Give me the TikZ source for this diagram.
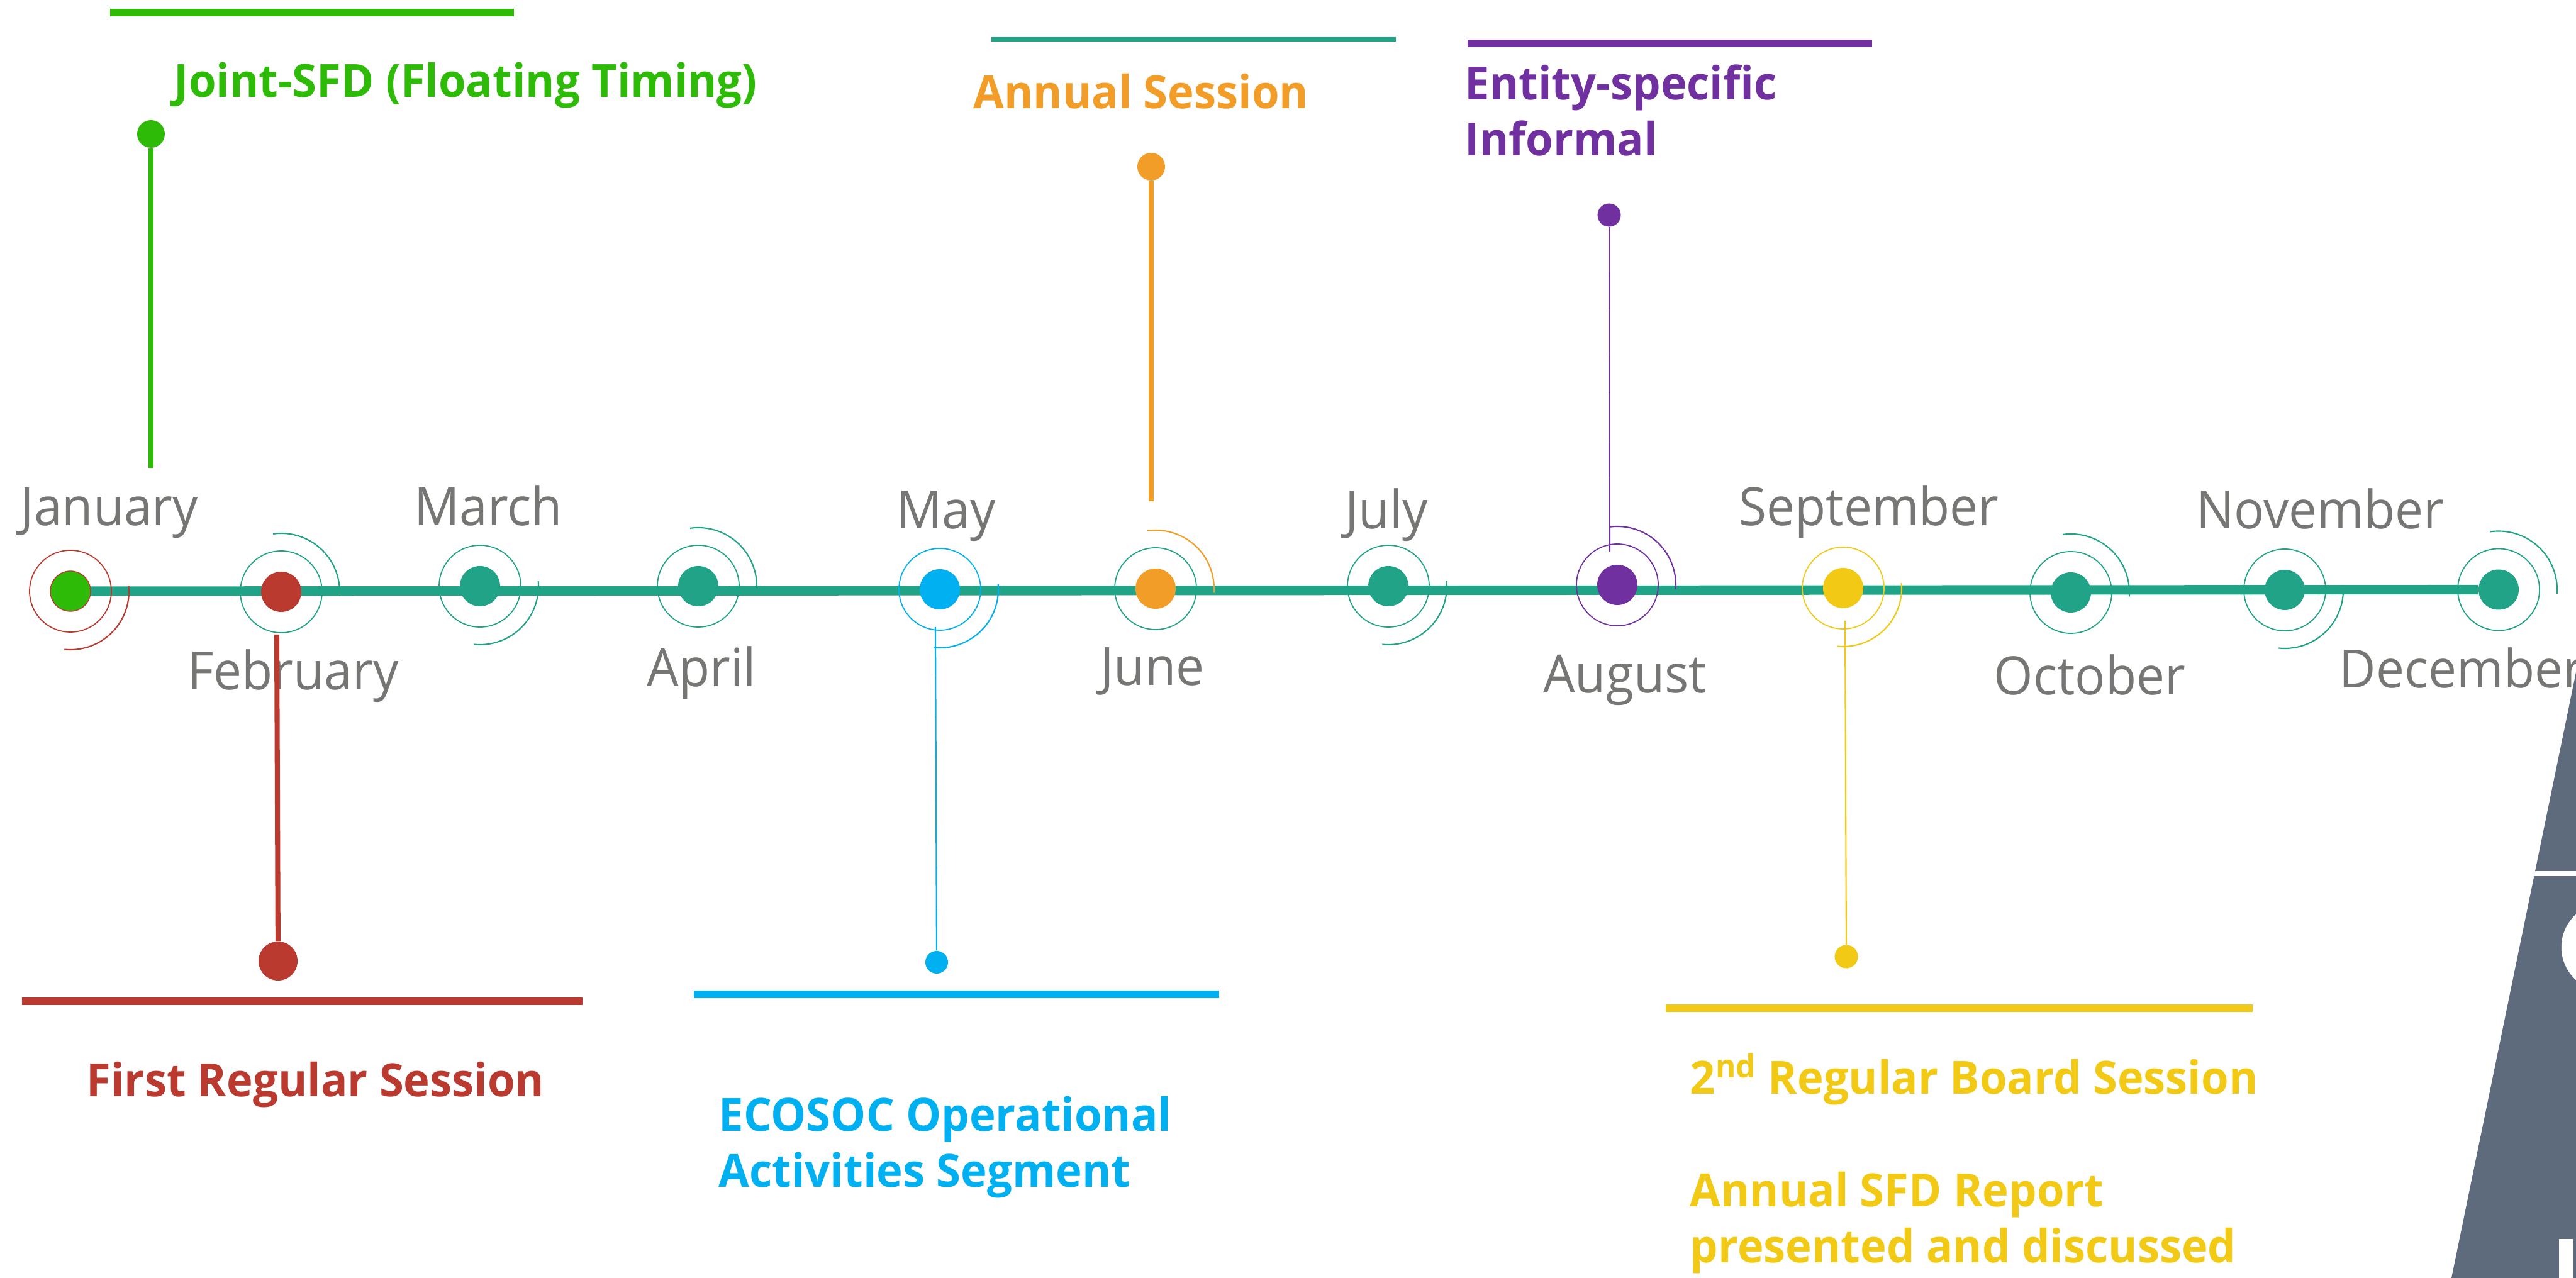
\documentclass[tikz,border=0pt]{standalone}
\usepackage{fontspec}
\usepackage{tikz}
\usetikzlibrary{backgrounds}
\newfontfamily\monthfont{Open Sans}[FakeStretch=0.955]
\newfontfamily\eventfont{Open Sans}[FakeStretch=0.97]
\definecolor{jade}{RGB}{32,163,134}
\definecolor{leaf}{RGB}{45,187,8}
\definecolor{brick}{RGB}{187,58,48}
\definecolor{sky}{RGB}{0,176,240}
\definecolor{amber}{RGB}{242,157,39}
\definecolor{plum}{RGB}{112,48,160}
\definecolor{mustard}{RGB}{242,202,21}
\definecolor{slate}{RGB}{94,107,125}
\definecolor{monthgray}{RGB}{118,118,116}

\tikzset{
  monthdot/.style={circle, inner sep=0pt, minimum size=0.64cm},
  pindot/.style={circle, inner sep=0pt},
  ring/.style={line width=0.5pt},
  wave/.style={line width=0.6pt},
  spine/.style={jade, line width=4.3pt},
  bar/.style={line width=3.4pt},
  monthname/.style={text=monthgray, inner sep=0pt, anchor=base,
    font=\monthfont\fontsize{23.9}{28}\selectfont},
  eventname/.style={inner sep=0pt, anchor=base west, align=left,
    font=\eventfont\bfseries\fontsize{20.7}{25.4}\selectfont},
}

\begin{document}
\begin{tikzpicture}

\useasboundingbox (0,0) rectangle (40.95,20.32);

\def\rr{0.65} % ring radius
\def\wr{0.93} % wave radius

% --- Month dots ---
\node[monthdot, fill=leaf, draw=brick, thin] (m1) at (1.12,10.92) {};
\node[monthdot, fill=brick] (m2) at (4.47,10.91) {};
\node[monthdot, fill=jade] (m3) at (7.63,11.00) {};
\node[monthdot, fill=jade] (m4) at (11.10,11.00) {};
\node[monthdot, fill=sky] (m5) at (14.94,10.95) {};
\node[monthdot, fill=amber] (m6) at (18.37,10.96) {};
\node[monthdot, fill=jade] (m7) at (22.07,11.00) {};
\node[monthdot, fill=plum] (m8) at (25.71,11.02) {};
\node[monthdot, fill=mustard] (m9) at (29.30,10.97) {};
\node[monthdot, fill=jade] (m10) at (32.92,10.90) {};
\node[monthdot, fill=jade] (m11) at (36.32,10.94) {};
\node[monthdot, fill=jade] (m12) at (39.72,10.945) {};

% Time line behind the dots
\begin{scope}[on background layer]
\draw[spine] (m1) -- (m12);
\end{scope}

% Rings round each dot
\draw[ring, brick] (m1) circle[radius=\rr];
\draw[ring, jade] (m2) circle[radius=\rr];
\draw[ring, jade] (m3) circle[radius=\rr];
\draw[ring, jade] (m4) circle[radius=\rr];
\draw[ring, sky] (m5) circle[radius=\rr];
\draw[ring, jade] (m6) circle[radius=\rr];
\draw[ring, jade] (m7) circle[radius=\rr];
\draw[ring, plum] (m8) circle[radius=\rr];
\draw[ring, mustard] (m9) circle[radius=\rr];
\draw[ring, jade] (m10) circle[radius=\rr];
\draw[ring, jade] (m11) circle[radius=\rr];
\draw[ring, jade] (m12) circle[radius=\rr];

% Outer waves: lower right for odd months, upper right for even ones
\draw[wave, brick] (m1) ++(5:\wr) arc[start angle=5, end angle=-96, radius=\wr];
\draw[wave, jade] (m2) ++(98:\wr) arc[start angle=98, end angle=-4, radius=\wr];
\draw[wave, jade] (m3) ++(5:\wr) arc[start angle=5, end angle=-96, radius=\wr];
\draw[wave, jade] (m4) ++(98:\wr) arc[start angle=98, end angle=-4, radius=\wr];
\draw[wave, sky] (m5) ++(5:\wr) arc[start angle=5, end angle=-96, radius=\wr];
\draw[wave, amber] (m6) ++(98:\wr) arc[start angle=98, end angle=-4, radius=\wr];
\draw[wave, jade] (m7) ++(5:\wr) arc[start angle=5, end angle=-96, radius=\wr];
\draw[wave, plum] (m8) ++(98:\wr) arc[start angle=98, end angle=-4, radius=\wr];
\draw[wave, mustard] (m9) ++(5:\wr) arc[start angle=5, end angle=-96, radius=\wr];
\draw[wave, jade] (m10) ++(98:\wr) arc[start angle=98, end angle=-4, radius=\wr];
\draw[wave, jade] (m11) ++(5:\wr) arc[start angle=5, end angle=-96, radius=\wr];
\draw[wave, jade] (m12) ++(98:\wr) arc[start angle=98, end angle=-4, radius=\wr];

% --- Month names ---
\node[monthname] (janname) at (1.74,11.96) {January};
\node[monthname] (febname) at (4.66,9.35) {February};
\node[monthname] (marname) at (7.76,11.96) {March};
\node[monthname] (aprname) at (11.15,9.40) {April};
\node[monthname] (mayname) at (15.04,11.91) {May};
\node[monthname] (junname) at (18.32,9.42) {June};
\node[monthname] (julname) at (22.04,11.91) {July};
\node[monthname] (augname) at (25.83,9.30) {August};
\node[monthname] (sepname) at (29.71,11.96) {September};
\node[monthname] (octname) at (33.22,9.27) {October};
\node[monthname] (novname) at (36.88,11.91) {November};
\node[monthname, anchor=base west] (decname) at (37.18,9.38) {December};

% --- Joint-SFD (January) ---
\node[pindot, fill=leaf, minimum size=0.44cm] (janpin) at (2.40,18.19) {};
\coordinate (janfoot) at (2.40,12.88);
\draw[leaf, line width=2pt] (janpin) -- (janfoot);
\draw[bar, leaf] (1.75,20.12) -- (8.17,20.12);
\node[eventname, text=leaf] (jointsfd) at (2.76,18.77) {Joint-SFD (Floating Timing)};

% --- First regular session (February) ---
\node[pindot, fill=brick, minimum size=0.62cm] (febpin) at (4.42,5.04) {};
\coordinate (febtop) at (4.40,10.23);
\draw[brick, line width=2.3pt] (febtop) -- (febpin);
\draw[bar, brick] (0.35,4.40) -- (9.26,4.40);
\node[eventname, text=brick] (firstreg) at (1.37,2.88) {First Regular Session};

% --- ECOSOC (May), anchored on its last line ---
\node[pindot, fill=sky, minimum size=0.36cm] (maypin) at (14.89,5.02) {};
\coordinate (maytop) at (14.87,10.35);
\draw[sky, line width=0.6pt] (maytop) -- (maypin);
\draw[bar, sky] (11.03,4.51) -- (19.38,4.51);
\node[eventname, text=sky] (ecosoc) at (11.42,1.44) {ECOSOC Operational\\Activities Segment};

% --- Annual session (June) ---
\node[pindot, fill=amber, minimum size=0.44cm] (junpin) at (18.30,17.67) {};
\coordinate (junfoot) at (18.30,12.35);
\draw[amber, line width=2.3pt] (junpin) -- (junfoot);
\draw[jade, line width=2pt] (15.76,19.69) -- (22.19,19.69);
\node[eventname, text=amber] (annualsess) at (15.47,18.59) {Annual Session};

% --- Entity-specific informal (August) ---
\node[pindot, fill=plum, minimum size=0.37cm] (augpin) at (25.58,16.90) {};
\coordinate (augfoot) at (25.59,11.55);
\draw[plum, line width=0.6pt] (augpin) -- (augfoot);
\draw[bar, plum] (23.33,19.63) -- (29.76,19.63);
\node[eventname, text=plum] (entityinf) at (23.28,17.84) {Entity-specific\\Informal};

% --- Second regular session (September) ---
\node[pindot, fill=mustard, minimum size=0.37cm] (seppin) at (29.35,5.11) {};
\coordinate (septop) at (29.33,10.45);
\draw[mustard, line width=0.6pt] (septop) -- (seppin);
\draw[bar, mustard] (26.48,4.29) -- (35.81,4.29);
\node[eventname, text=mustard] (secondreg) at (26.86,2.92) {2\textsuperscript{nd} Regular Board Session};
\node[eventname, text=mustard] (sfdreport) at (26.86,0.24) {Annual SFD Report\\presented and discussed};

% --- Slate panel at the right edge ---
\fill[slate] (40.95,9.63) -- (38.97,0) -- (40.95,0) -- cycle;
\draw[white, line width=2.3pt] (40.25,6.43) -- (41.0,6.43);
\draw[white, line width=7pt] (41.42,5.26) ++(125:0.58) arc[start angle=125, end angle=235, radius=0.58];
\fill[white] (40.68,0) rectangle (40.90,0.62);

\end{tikzpicture}
\end{document}
